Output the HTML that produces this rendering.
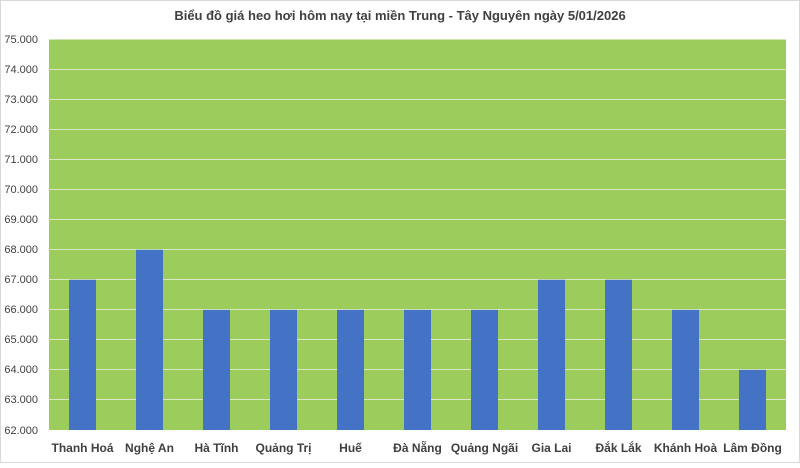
<!DOCTYPE html><html><head><style>body{margin:0;background:#fff}</style></head><body>
<svg width="800" height="463" xmlns="http://www.w3.org/2000/svg" font-family="Liberation Sans, sans-serif">
<rect x="0.5" y="0.5" width="799" height="462" fill="#fff" stroke="#d9d9d9"/>
<text x="400" y="20" text-anchor="middle" font-size="13" font-weight="bold" fill="#404040">Biểu đồ giá heo hơi hôm nay tại miền Trung - Tây Nguyên ngày 5/01/2026</text>
<rect x="49" y="39.5" width="737" height="390.5" fill="#9ccc5c"/>
<g stroke="#d8e8c4" stroke-width="1">
<line x1="49" x2="786" y1="69.5" y2="69.5"/><line x1="49" x2="786" y1="99.5" y2="99.5"/><line x1="49" x2="786" y1="129.5" y2="129.5"/><line x1="49" x2="786" y1="159.5" y2="159.5"/><line x1="49" x2="786" y1="189.5" y2="189.5"/><line x1="49" x2="786" y1="219.5" y2="219.5"/><line x1="49" x2="786" y1="249.5" y2="249.5"/><line x1="49" x2="786" y1="279.5" y2="279.5"/><line x1="49" x2="786" y1="309.5" y2="309.5"/><line x1="49" x2="786" y1="339.5" y2="339.5"/><line x1="49" x2="786" y1="369.5" y2="369.5"/><line x1="49" x2="786" y1="399.5" y2="399.5"/>
</g>
<g fill="#4472c4">
<rect x="69" y="279.8" width="27" height="150.2"/>
<rect x="136" y="249.8" width="27" height="180.2"/>
<rect x="203" y="309.9" width="27" height="120.1"/>
<rect x="270" y="309.9" width="27" height="120.1"/>
<rect x="337" y="309.9" width="27" height="120.1"/>
<rect x="404" y="309.9" width="27" height="120.1"/>
<rect x="471" y="309.9" width="27" height="120.1"/>
<rect x="538" y="279.8" width="27" height="150.2"/>
<rect x="605" y="279.8" width="27" height="150.2"/>
<rect x="672" y="309.9" width="27" height="120.1"/>
<rect x="739" y="369.9" width="27" height="60.1"/>
</g>
<g font-size="11" fill="#404040" text-anchor="end">
<text x="38" y="43">75.000</text><text x="38" y="73">74.000</text><text x="38" y="103">73.000</text><text x="38" y="133">72.000</text><text x="38" y="163">71.000</text><text x="38" y="193">70.000</text><text x="38" y="223">69.000</text><text x="38" y="253">68.000</text><text x="38" y="283">67.000</text><text x="38" y="313">66.000</text><text x="38" y="343">65.000</text><text x="38" y="373">64.000</text><text x="38" y="403">63.000</text><text x="38" y="434">62.000</text>
</g>
<g font-size="12" font-weight="bold" fill="#404040" text-anchor="middle">
<text x="82.5" y="452">Thanh Hoá</text><text x="149.5" y="452">Nghệ An</text><text x="216.5" y="452">Hà Tĩnh</text><text x="283.5" y="452">Quảng Trị</text><text x="350.5" y="452">Huế</text><text x="417.5" y="452">Đà Nẵng</text><text x="484.5" y="452">Quảng Ngãi</text><text x="551.5" y="452">Gia Lai</text><text x="618.5" y="452">Đắk Lắk</text><text x="685.5" y="452">Khánh Hoà</text><text x="752.5" y="452">Lâm Đồng</text>
</g>
</svg></body></html>
